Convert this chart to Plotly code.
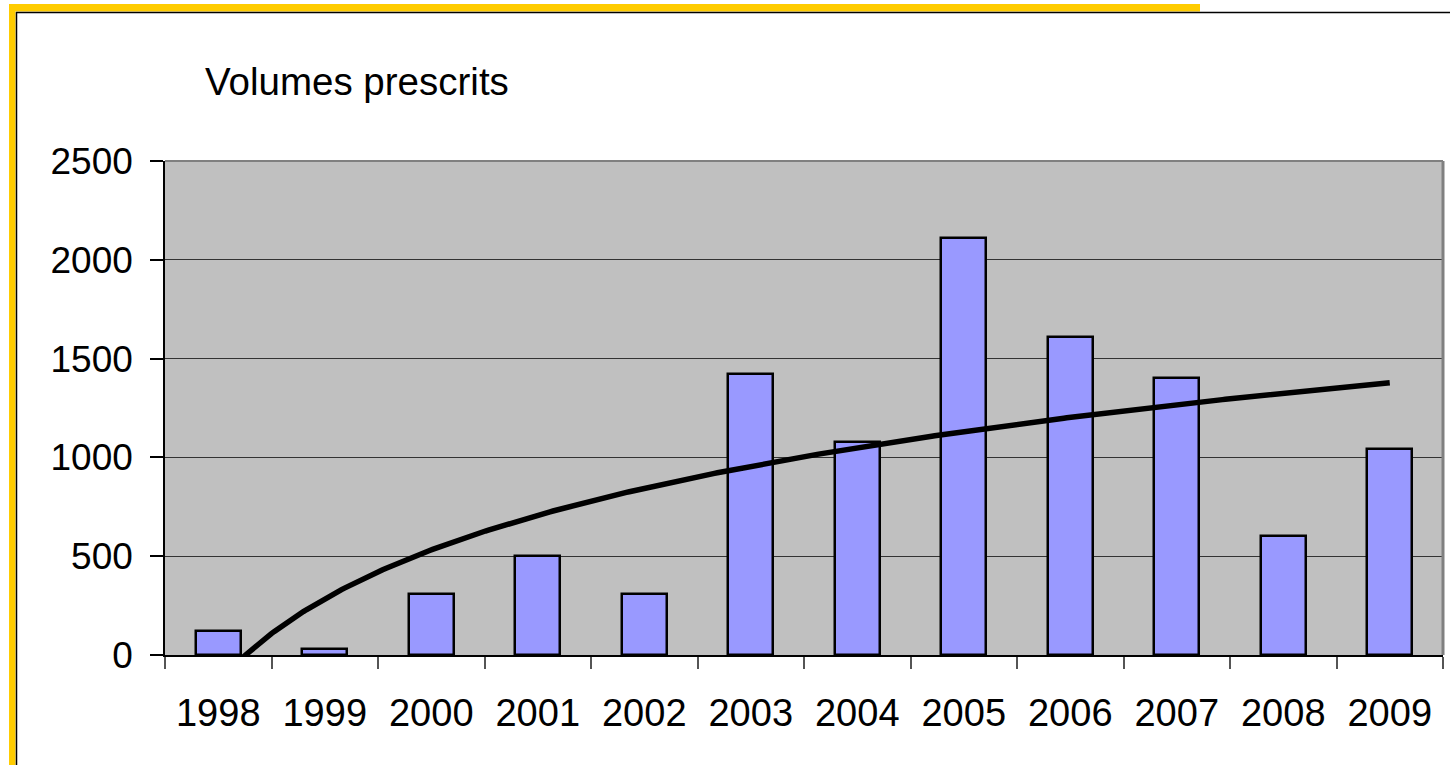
import numpy as np
import plotly.graph_objects as go

years = ["1998", "1999", "2000", "2001", "2002", "2003", "2004", "2005", "2006", "2007", "2008", "2009"]
volumes = [120, 30, 310, 500, 310, 1420, 1080, 2110, 1610, 1400, 600, 1045]
y_ticks = [0, 500, 1000, 1500, 2000, 2500]
title_text = "Volumes prescrits"

W, H = 1450, 765
L, R, T, B = 165, 1443, 161, 655
PW, PH = R - L, B - T


def px(x):
    return (x - L) / PW


def py(y):
    return (B - y) / PH


idx = np.arange(1, len(years) + 1)
# Logarithmic trendline fitted on the bar data (as in the original spreadsheet chart)
a, b = np.polyfit(np.log(idx), np.array(volumes, dtype=float), 1)
tx = np.linspace(1, len(years), 400)
ty = a * np.log(tx) + b

fig = go.Figure()
fig.add_trace(go.Bar(
    x=idx, y=volumes, width=0.42,
    marker=dict(color="#9999FF", line=dict(color="black", width=2.5)),
    showlegend=False, hoverinfo="skip",
))
fig.add_trace(go.Scatter(
    x=tx, y=ty, mode="lines",
    line=dict(color="black", width=5.5),
    showlegend=False, hoverinfo="skip",
))

font = "Liberation Sans, Arial, sans-serif"

fig.update_layout(
    width=W, height=H,
    margin=dict(l=L, r=W - R, t=T, b=H - B, pad=0),
    paper_bgcolor="white",
    plot_bgcolor="#C0C0C0",
    font=dict(family=font, size=38, color="black"),
    xaxis=dict(
        range=[0.5, len(years) + 0.5],
        tickmode="array", tickvals=list(idx), ticktext=years,
        ticks="", ticklabelstandoff=24,
        showgrid=False, zeroline=False,
        showline=True, linecolor="black", linewidth=1.5,
        tickfont=dict(size=38, family=font),
        minor=dict(tickmode="array", tickvals=[i + 0.5 for i in range(len(years) + 1)],
                   ticks="outside", ticklen=12, tickcolor="#555555", tickwidth=1.5,
                   showgrid=False),
        fixedrange=True,
    ),
    yaxis=dict(
        range=[0, 2500],
        tickmode="array", tickvals=y_ticks,
        ticks="outside", ticklen=13, tickcolor="black", tickwidth=1.5,
        ticklabelstandoff=10,
        showgrid=True, gridcolor="#333333", gridwidth=1.3,
        zeroline=False,
        showline=True, linecolor="black", linewidth=1.5,
        tickfont=dict(size=37, family=font),
        fixedrange=True,
    ),
    bargap=0,
)

shapes = [
    # plot area border (top and right)
    dict(type="line", xref="paper", yref="paper", x0=0, x1=1, y0=1, y1=1,
         line=dict(color="#808080", width=2), layer="above"),
    dict(type="line", xref="paper", yref="paper", x0=1, x1=1, y0=0, y1=1,
         line=dict(color="#808080", width=3), layer="above"),
    # yellow frame
    dict(type="rect", xref="paper", yref="paper", x0=px(9), x1=px(15.5), y0=py(4), y1=py(H + 5),
         fillcolor="#FFCC00", line=dict(width=0), layer="above"),
    dict(type="rect", xref="paper", yref="paper", x0=px(9), x1=px(1200), y0=py(4), y1=py(11.5),
         fillcolor="#FFCC00", line=dict(width=0), layer="above"),
    # black inner frame lines
    dict(type="line", xref="paper", yref="paper", x0=px(16.5), x1=px(16.5), y0=py(12), y1=py(H + 5),
         line=dict(color="black", width=1.5), layer="above"),
    dict(type="line", xref="paper", yref="paper", x0=px(16), x1=px(W + 5), y0=py(12.5), y1=py(12.5),
         line=dict(color="black", width=1.5), layer="above"),
]
fig.update_layout(shapes=shapes)

fig.add_annotation(
    text=title_text, xref="paper", yref="paper",
    x=px(203), y=py(81), xanchor="left", yanchor="middle",
    showarrow=False, font=dict(size=38.5, family=font, color="black"),
)

fig.write_html("out.html", config={"displayModeBar": False},
               post_script="document.body.style.margin='0';document.body.style.overflow='hidden';")
